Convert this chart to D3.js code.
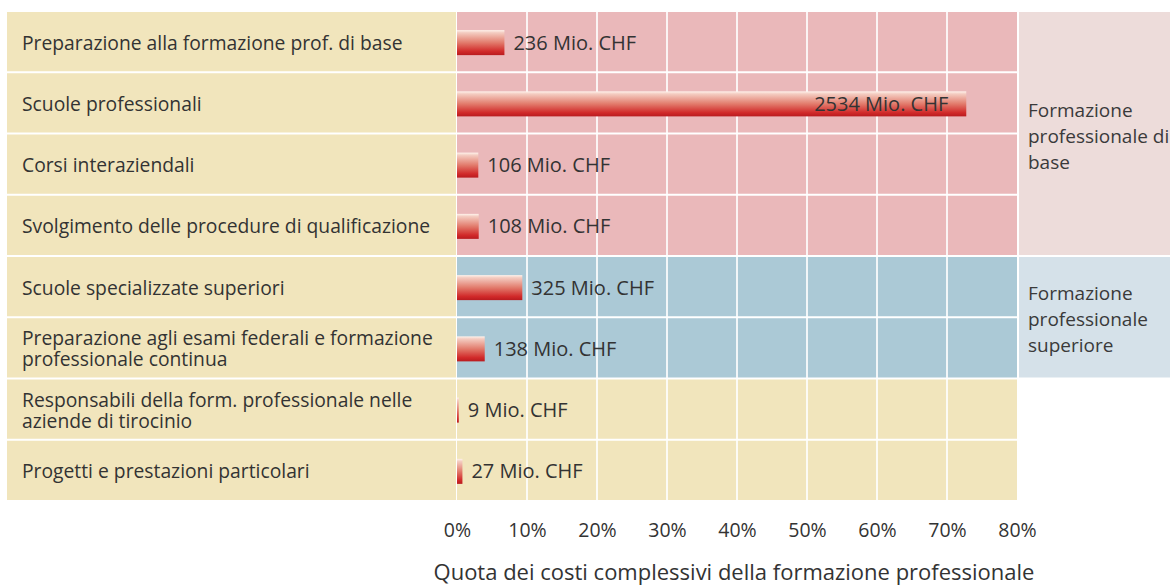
<!DOCTYPE html>
<html>
<head>
<meta charset="utf-8">
<script src="https://cdn.jsdelivr.net/npm/d3@7"></script>
<style>
  body { margin: 0; background: #fff; }
  svg { display: block; font-family: "Open Sans", "Noto Sans", sans-serif; }
</style>
</head>
<body>
<svg id="chart" width="1170" height="587"></svg>
<script>
// data
const categories = [
  "Preparazione alla formazione prof. di base",
  "Scuole professionali",
  "Corsi interaziendali",
  "Svolgimento delle procedure di qualificazione",
  "Scuole specializzate superiori",
  "Preparazione agli esami federali e formazione\nprofessionale continua",
  "Responsabili della form. professionale nelle\naziende di tirocinio",
  "Progetti e prestazioni particolari"
];
const values = [236, 2534, 106, 108, 325, 138, 9, 27];   // Mio. CHF
const rowGroup = [0, 0, 0, 0, 1, 1, 2, 2];
const groupLabels = ["Formazione\nprofessionale di\nbase", "Formazione\nprofessionale\nsuperiore", null];
const tickValues = [0, 10, 20, 30, 40, 50, 60, 70, 80];
const axisTitle = "Quota dei costi complessivi della formazione professionale";

const plotColors = ["#eab8ba", "#abc9d6", "#f1e5bc"];
const sideColors = ["#eddcda", "#d5e1e9"];

const svg = d3.select("#chart");
const width = 1170, height = 587;
let margin = { top: 11, bottom: 501, left: 457, right: 1017 };

const total = d3.sum(values);
const shares = values.map(v => v / total * 100);

let x = d3.scaleLinear().domain([0, 80]).range([margin.left, margin.right]);
let y = d3.scaleBand().domain(d3.range(categories.length)).range([margin.top, margin.bottom]).padding(0);
const bw = y.bandwidth();

// gradient for bars
const grad = svg.append("defs").append("linearGradient")
  .attr("id", "barGrad").attr("x1", 0).attr("y1", 0).attr("x2", 0).attr("y2", 1);
[[0, "#fff3ec"], [0.1, "#f4cdc2"], [0.5, "#e27b6c"], [0.85, "#d12a2a"], [1, "#b91b1f"]]
  .forEach(s => grad.append("stop").attr("offset", s[0]).attr("stop-color", s[1]));

// left label panel
svg.append("g").selectAll("rect")
  .data(categories).enter().append("rect")
  .attr("x", 7).attr("width", margin.left - 1 - 7)
  .attr("y", (d, i) => y(i) + 1).attr("height", bw - 2)
  .attr("fill", "#f1e5bc");

// plot cells
svg.append("g").selectAll("rect")
  .data(categories).enter().append("rect")
  .attr("x", margin.left).attr("width", margin.right - margin.left)
  .attr("y", (d, i) => y(i) + 1).attr("height", bw - 2)
  .attr("fill", (d, i) => plotColors[rowGroup[i]]);

// vertical grid
svg.append("g").selectAll("line")
  .data(tickValues.filter(t => t > 0 && t < 80)).enter().append("line")
  .attr("x1", d => x(d)).attr("x2", d => x(d))
  .attr("y1", margin.top).attr("y2", margin.bottom)
  .attr("stroke", "#fff").attr("stroke-width", 2).attr("opacity", 0.85);

// group side panels
const groups = [0, 1].map(g => {
  const rows = d3.range(categories.length).filter(i => rowGroup[i] === g);
  return { g: g, y0: y(rows[0]), y1: y(rows[rows.length - 1]) + bw };
});
const side = svg.append("g");
side.selectAll("rect").data(groups).enter().append("rect")
  .attr("x", margin.right + 2).attr("width", width - margin.right - 2)
  .attr("y", d => d.y0 + 1).attr("height", d => d.y1 - d.y0 - 2)
  .attr("fill", d => sideColors[d.g]);
side.selectAll("text").data(groups).enter().append("text")
  .attr("x", margin.right + 11)
  .attr("y", d => d.g === 0 ? 117 : 300)
  .attr("font-size", 19).attr("fill", "#3a3a3a")
  .each(function (d) {
    groupLabels[d.g].split("\n").forEach((line, k) => {
      d3.select(this).append("tspan").attr("x", margin.right + 11).attr("dy", k ? 26 : 0).text(line);
    });
  });

// category labels
svg.append("g").selectAll("text")
  .data(categories).enter().append("text")
  .attr("x", 22)
  .attr("font-size", 19.3).attr("fill", "#333")
  .each(function (d, i) {
    const lines = d.split("\n");
    const lh = 21;
    const cy = y(i) + bw / 2 + 8 - (lines.length - 1) * lh / 2;
    lines.forEach((line, k) => {
      d3.select(this).append("tspan").attr("x", 22).attr("y", cy + k * lh).text(line);
    });
  });

// bars
const barH = 25;
svg.append("g").selectAll("rect")
  .data(shares).enter().append("rect")
  .attr("x", x(0))
  .attr("y", (d, i) => y(i) + bw / 2 - barH / 2 + 1)
  .attr("width", d => Math.max(1.5, x(d) - x(0)))
  .attr("height", barH)
  .attr("fill", "url(#barGrad)");

// value labels
svg.append("g").selectAll("text")
  .data(shares).enter().append("text")
  .attr("x", (d, i) => d > 40 ? x(d) - 18 : x(d) + 9)
  .attr("y", (d, i) => y(i) + bw / 2 + 8)
  .attr("text-anchor", d => d > 40 ? "end" : "start")
  .attr("font-size", 20).attr("fill", "#333")
  .text((d, i) => values[i] + " Mio. CHF");

// x axis
const axisX = d3.axisBottom(x).tickValues(tickValues).tickFormat(d => d + "%").tickSize(0).tickPadding(0);
const ax = svg.append("g")
  .attr("transform", `translate(0, 523)`)
  .call(axisX);
ax.select(".domain").remove();
ax.selectAll("text").attr("font-size", 19.5).attr("fill", "#333").attr("font-family", "Open Sans, sans-serif");

svg.append("text")
  .attr("x", (margin.left + margin.right) / 2 - 3).attr("y", 580)
  .attr("text-anchor", "middle")
  .attr("font-size", 22).attr("fill", "#333")
  .text(axisTitle);
</script>
</body>
</html>
